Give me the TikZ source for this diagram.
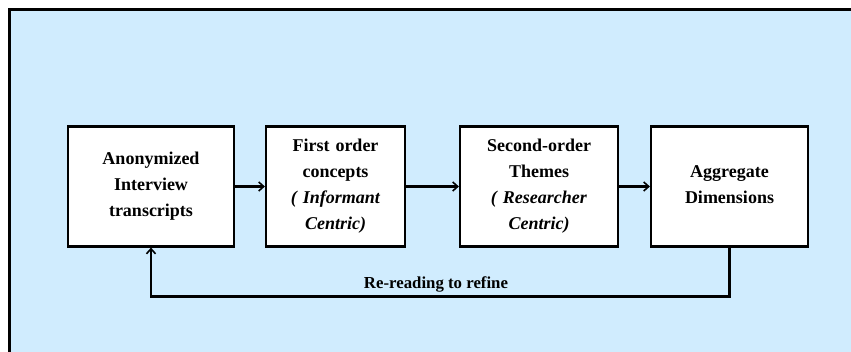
\documentclass[tikz,border=0pt]{standalone}
\usepackage{fontspec}
\setmainfont{Liberation Serif}
\usetikzlibrary{arrows.meta}
\definecolor{panelblue}{RGB}{208,236,254}
\tikzset{
  stagebox/.style={draw=black, line width=2.2pt, fill=white, minimum height=120pt,
    align=center, inner sep=0pt, font=\bfseries\fontsize{18}{26}\selectfont},
  flow/.style={line width=2.2pt, -{Straight Barb[length=5pt,width=9pt,line width=1.6pt]}},
}
\begin{document}
\begin{tikzpicture}[x=1pt,y=-1pt]
  \useasboundingbox (0,0) rectangle (851,351);
  \clip (0,0) rectangle (851,351);
  % panel background with its frame
  \draw[fill=panelblue, line width=2.8pt] (9.5,9.5) rectangle (870,370);

  % stages
  \node[stagebox, minimum width=166pt, text width=160pt] (anon) at (151,186.5)
    {Anonymized\\Interview\\transcripts};
  \node[stagebox, minimum width=139pt, text width=135pt] (first) at (335.5,186.5)
    {First order\\concepts\\\textit{( Informant}\\\textit{Centric)}};
  \node[stagebox, minimum width=158pt, text width=150pt] (second) at (539,186.5)
    {Second-order\\Themes\\\textit{( Researcher}\\\textit{Centric)}};
  \node[stagebox, minimum width=157pt, text width=150pt] (agg) at (729.5,186.5)
    {Aggregate\\Dimensions\rule[-4pt]{0pt}{4pt}};

  % forward flow
  \draw[flow] (anon.east) -- (first.west);
  \draw[flow] (first.east) -- (second.west);
  \draw[flow] (second.east) -- (agg.west);

  % feedback loop
  \coordinate (loopR) at (729.5,296.5);
  \coordinate (loopL) at (151,296.5);
  \draw[flow] (agg.south) -- (loopR) -- (loopL) -- (anon.south);
  \node[font=\bfseries\fontsize{16.8}{20}\selectfont] (reread) at (436,284) {Re-reading to refine};
\end{tikzpicture}
\end{document}
